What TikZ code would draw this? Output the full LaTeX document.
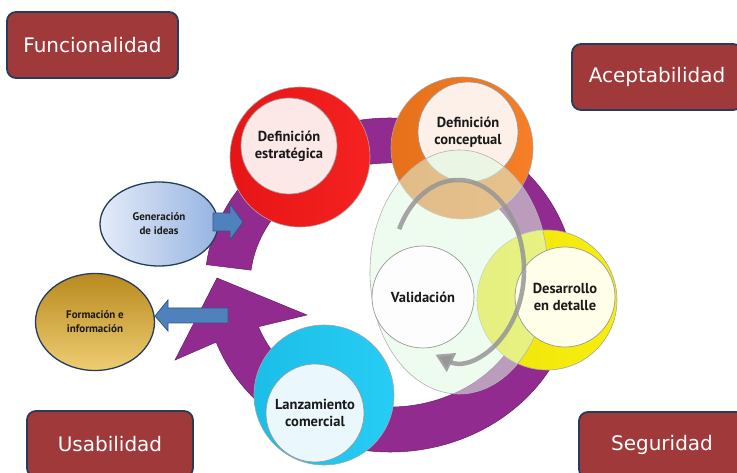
\documentclass[tikz,border=0pt]{standalone}
\usepackage{fontspec}
\setmainfont{DejaVu Sans}
\newfontfamily\lblfont{PT Sans}
\usetikzlibrary{arrows.meta,shapes.geometric}
\definecolor{boxred}{RGB}{160,58,58}
\definecolor{boxedge}{RGB}{38,60,92}
\definecolor{ringpurple}{RGB}{146,43,143}
\definecolor{cred}{RGB}{245,22,22}
\definecolor{corange}{RGB}{245,120,28}
\definecolor{cyellow}{RGB}{248,238,12}
\definecolor{ccyan}{RGB}{28,202,245}
\definecolor{ingreen}{RGB}{222,250,226}
\definecolor{arrowblue}{RGB}{79,129,189}
\definecolor{arrowedge}{RGB}{50,85,130}
\definecolor{ringgray}{RGB}{150,150,150}
\begin{document}
\begin{tikzpicture}[x=1pt,y=1pt,
  qbox/.style={draw=boxedge, line width=1.8pt, fill=boxred, rounded corners=9pt,
    text=white, font=\fontsize{20}{24}\selectfont, minimum height=66pt},
  outerc/.style={circle, draw=black!35, line width=0.6pt, inner sep=0pt},
  innerc/.style={circle, draw=black!40, line width=0.7pt, inner sep=0pt, align=center,
    text=black!90, font=\lblfont\bfseries\fontsize{14.5}{17}\selectfont},
  smallell/.style={ellipse, draw=boxedge, line width=1.3pt, inner sep=0pt, align=center,
    text=black!90, font=\lblfont\bfseries\fontsize{11}{14}\selectfont},
  blockarrow/.style={fill=arrowblue, draw=arrowedge, line width=0.8pt}
]
\useasboundingbox (0,0) rectangle (737,-473);

% purple circular arrow
\fill[ringpurple, draw=ringpurple!70!black, line width=0.5pt]
  ({390+185*cos(173)},{-285+167*sin(173)})
  arc[start angle=173, end angle=-160, x radius=185, y radius=167]
  -- (175,-360) coordinate (ahl) -- (217,-278) coordinate (tip) -- (307,-315) coordinate (ahr)
  -- ({390+140*cos(-160)},{-285+122*sin(-160)})
  arc[start angle=-160, end angle=173, x radius=140, y radius=122] -- cycle;

% outer coloured circles
\node[outerc, minimum size=140pt, left color=cred!94!black, right color=cred!95!white] (rout) at (300,-157) {};
\node[outerc, minimum size=142pt, left color=corange!94!black, right color=corange!95!white] (oout) at (462,-148) {};
\node[outerc, minimum size=140pt, left color=cyellow!96!black, right color=cyellow] (yout) at (547,-300) {};
\node[outerc, minimum size=140pt, left color=ccyan!94!black, right color=ccyan!95!white] (cout) at (324,-395) {};

% inner circles (upper)
\node[innerc, minimum size=96pt, fill={rgb,255:red,253;green,232;blue,232}] (defe) at (289,-146) {Definición\\estratégica};
\node[innerc, minimum size=100pt, fill={rgb,255:red,253;green,240;blue,232}] (defc) at (468,-132) {Definición\\conceptual};

% green transparent ellipse
\node[ellipse, draw=black!30, line width=0.6pt, fill=ingreen, fill opacity=0.55,
  minimum width=178pt, minimum height=244pt] (gre) at (459,-272) {};

% remaining inner circles
\node[innerc, minimum size=102pt, fill={rgb,255:red,253;green,253;blue,253}] (val) at (423,-297) {Validación};
\node[innerc, minimum size=100pt, fill={rgb,255:red,255;green,254;blue,232}] (des) at (565,-297) {Desarrollo\\en detalle};
\node[innerc, minimum size=98pt, fill={rgb,255:red,234;green,248;blue,253}] (lan) at (315,-413) {Lanzamiento\\comercial};

% gray arrow inside the green ellipse
\draw[ringgray, draw opacity=0.85, line width=4.5pt, -{Triangle[length=18pt,width=20pt]}]
  ({458+66*cos(153)},{-270+90*sin(153)})
  arc[start angle=153, end angle=-110, x radius=66, y radius=90];

% side ellipses
\node[smallell, minimum width=118pt, minimum height=84pt,
  left color={rgb,255:red,228;green,236;blue,248}, right color={rgb,255:red,150;green,180;blue,225}]
  (gen) at (159,-224) {Generación\\de ideas};
\node[smallell, minimum width=119pt, minimum height=97pt,
  top color={rgb,255:red,185;green,138;blue,30}, bottom color={rgb,255:red,238;green,205;blue,115}]
  (form) at (95,-322) {Formación e\\información};

% blue block arrows
\draw[blockarrow] (213,-213) -- (230,-213) -- (230,-204) -- (243,-222) -- (230,-240) -- (230,-231) -- (213,-231) -- cycle;
\draw[blockarrow] (155,-316) -- (168,-300) -- (168,-308) -- (228,-308) -- (228,-323) -- (168,-323) -- (168,-331) -- cycle;

% quality boxes
\node[qbox, minimum width=171pt] (fun) at (92.5,-45) {Funcionalidad};
\node[qbox, minimum width=170pt] (ace) at (657,-77) {Aceptabilidad};
\node[qbox, minimum width=166pt] (usa) at (110,-444) {Usabilidad};
\node[qbox, minimum width=166pt] (seg) at (662,-445) {Seguridad};
\end{tikzpicture}
\end{document}
